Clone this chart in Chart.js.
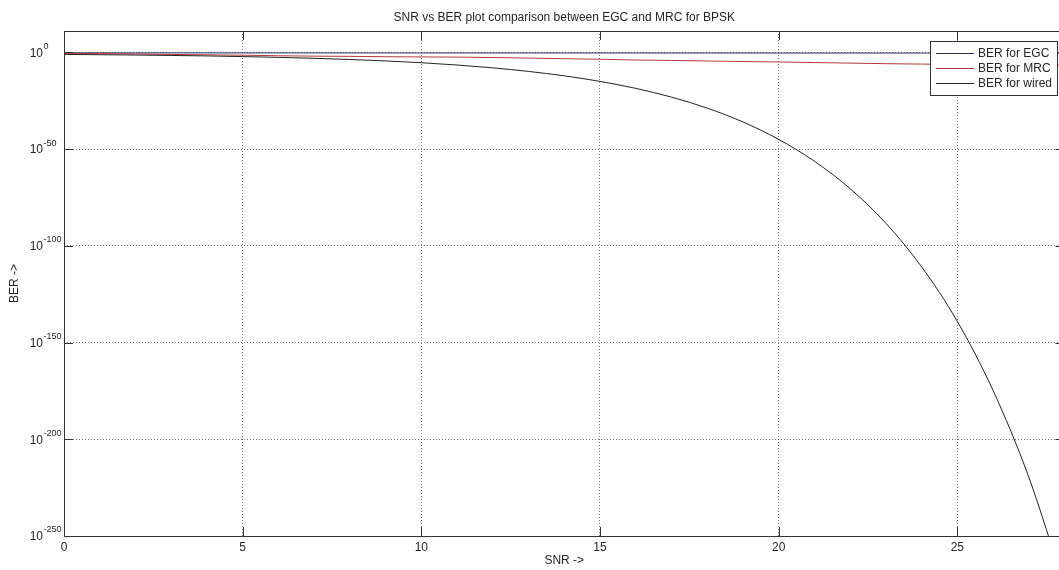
<!DOCTYPE html>
<html>
<head>
<meta charset="utf-8">
<title>SNR vs BER</title>
<script src="https://cdn.jsdelivr.net/npm/chart.js@4.4.1/dist/chart.umd.min.js"></script>
<style>
    html, body { margin: 0; padding: 0; background: #fff; overflow: hidden; }
    #wrap { width: 1128px; height: 570px; }
</style>
</head>
<body>
<div id="wrap"><canvas id="berChart" width="1128" height="570"></canvas></div>
<script>
    'use strict';

    // ===== Data =====
    const snr = [0, 1, 2, 3, 4, 5, 6, 7, 8, 9, 10, 11, 12, 13, 14,
                 15, 16, 17, 18, 19, 20, 21, 22, 23, 24, 25, 26, 27, 28];

    const berEGC = [0.50, 0.50, 0.49, 0.49, 0.48, 0.48, 0.47, 0.47, 0.46, 0.46,
                    0.45, 0.45, 0.44, 0.44, 0.43, 0.43, 0.43, 0.42, 0.42, 0.42,
                    0.41, 0.41, 0.41, 0.41, 0.40, 0.40, 0.40, 0.40, 0.40];

    const berMRC = [3.2e-1, 2.0e-1, 1.3e-1, 7.9e-2, 5.0e-2, 3.2e-2, 1.6e-2, 1.0e-2,
                    7.9e-3, 5.0e-3, 4.0e-3, 3.2e-3, 2.0e-3, 1.0e-3, 5.0e-4, 2.5e-4,
                    1.0e-4, 6.3e-5, 3.2e-5, 1.6e-5, 1.0e-5, 5.0e-6, 2.5e-6, 1.3e-6,
                    7.9e-7, 5.0e-7, 4.0e-7, 2.5e-7, 2.0e-7];

    const berWired = [7.9e-2, 5.6e-2, 3.8e-2, 2.3e-2, 1.3e-2, 6.0e-3, 2.4e-3, 7.7e-4,
                      1.9e-4, 3.4e-5, 3.9e-6, 2.6e-7, 9.0e-9, 1.3e-10, 6.8e-13, 9.2e-16,
                      2.3e-19, 6.9e-24, 1.4e-29, 1.0e-36, 1.0e-45, 5.2e-57, 3.3e-71,
                      4.5e-89, 1.4e-111, 7.9e-140, 1.8e-175, 2.7e-220, 1.0e-276];

    const seriesNames = ['BER for EGC', 'BER for MRC', 'BER for wired'];
    const seriesColors = ['#2a3466', '#b5373a', '#222222'];

    const xTicks = [0, 5, 10, 15, 20, 25];
    const yTickPowers = [0, -50, -100, -150, -200, -250];

    const titleText = 'SNR vs BER plot comparison between EGC and MRC for BPSK';
    const xLabel = 'SNR ->';
    const yLabel = 'BER ->';

    const FONT = '"Liberation Sans", Arial, sans-serif';
    const TEXT = '#262626';

    function toPoints(ys) {
        return snr.map((x, i) => ({ x: x, y: ys[i] }));
    }

    // ===== Axes decoration, labels and legend (MATLAB look) =====
    const matlabAxes = {
        id: 'matlabAxes',
        afterDraw(chart) {
            const ctx = chart.ctx;
            const a = chart.chartArea;
            const xs = chart.scales.x;
            const ys = chart.scales.y;

            function line(x1, y1, x2, y2) {
                ctx.beginPath();
                ctx.moveTo(x1, y1);
                ctx.lineTo(x2, y2);
                ctx.stroke();
            }

            ctx.save();
            ctx.strokeStyle = '#333';
            ctx.lineWidth = 1;

            // inward tick marks
            xTicks.forEach(v => {
                const px = Math.round(xs.getPixelForValue(v)) + 0.5;
                line(px, a.bottom, px, a.bottom - 9);
                line(px, a.top, px, a.top + 9);
            });
            yTickPowers.forEach(p => {
                const py = Math.round(ys.getPixelForValue(Math.pow(10, p))) + 0.5;
                line(a.left, py, a.left + 9, py);
                line(a.right, py, a.right - 9, py);
            });

            // box
            ctx.strokeRect(Math.round(a.left) + 0.5, Math.round(a.top) + 0.5,
                           Math.round(a.right - a.left), Math.round(a.bottom - a.top));

            // x tick labels
            ctx.fillStyle = TEXT;
            ctx.font = '12px ' + FONT;
            ctx.textAlign = 'center';
            ctx.textBaseline = 'middle';
            xTicks.forEach(v => ctx.fillText(String(v), xs.getPixelForValue(v), a.bottom + 12));

            // y tick labels: 10 with superscript exponent
            yTickPowers.forEach(p => {
                const py = ys.getPixelForValue(Math.pow(10, p));
                ctx.font = '12px ' + FONT;
                ctx.textAlign = 'right';
                ctx.fillText('10', a.left - 21, py + 1);
                ctx.font = '9px ' + FONT;
                ctx.textAlign = 'left';
                ctx.fillText(String(p), a.left - 20.5, py - 6);
            });

            // title and axis labels
            ctx.font = '12px ' + FONT;
            ctx.textAlign = 'center';
            const cx = (a.left + a.right) / 2;
            ctx.fillText(titleText, cx, 18);
            ctx.fillText(xLabel, cx, 561);
            ctx.save();
            ctx.translate(15, (a.top + a.bottom) / 2);
            ctx.rotate(-Math.PI / 2);
            ctx.fillText(yLabel, 0, 0);
            ctx.restore();

            // legend box
            const lx = 930, ly = 41, lw = 127, lh = 54;
            ctx.fillStyle = '#fff';
            ctx.fillRect(lx, ly, lw, lh);
            ctx.strokeStyle = '#333';
            ctx.strokeRect(lx + 0.5, ly + 0.5, lw, lh);
            seriesNames.forEach((name, i) => {
                const y = ly + 12 + i * 15;
                ctx.strokeStyle = seriesColors[i];
                line(936, y + 0.5, 974, y + 0.5);
                ctx.fillStyle = TEXT;
                ctx.font = '12px ' + FONT;
                ctx.textAlign = 'left';
                ctx.fillText(name, 978, y + 1);
            });
            ctx.restore();
        }
    };

    // ===== Chart =====
    const ctx = document.getElementById('berChart').getContext('2d');
    new Chart(ctx, {
        type: 'line',
        data: {
            datasets: [{
                label: seriesNames[0],
                data: toPoints(berEGC),
                borderColor: seriesColors[0],
                borderWidth: 1,
                pointRadius: 0,
                order: 3
            }, {
                label: seriesNames[1],
                data: toPoints(berMRC),
                borderColor: seriesColors[1],
                borderWidth: 1,
                pointRadius: 0,
                order: 2
            }, {
                label: seriesNames[2],
                data: toPoints(berWired),
                borderColor: seriesColors[2],
                borderWidth: 1,
                pointRadius: 0,
                cubicInterpolationMode: 'monotone',
                order: 1
            }]
        },
        options: {
            responsive: false,
            animation: false,
            layout: { padding: { top: 31, right: 63.5, left: 0, bottom: 0 } },
            plugins: {
                legend: { display: false },
                title: { display: false },
                tooltip: { enabled: false }
            },
            scales: {
                x: {
                    type: 'linear',
                    min: 0,
                    max: 28,
                    ticks: { stepSize: 5, display: false },
                    grid: { color: '#7a7a7a', lineWidth: 1, drawTicks: false },
                    border: { display: false, dash: [1, 2] },
                    afterFit(scale) { scale.height = 34; }
                },
                y: {
                    type: 'logarithmic',
                    min: 1e-250,
                    max: 1e11,
                    ticks: { display: false, autoSkip: false },
                    grid: { color: '#7a7a7a', lineWidth: 1, drawTicks: false },
                    border: { display: false, dash: [1, 2] },
                    afterBuildTicks(scale) {
                        scale.ticks = yTickPowers.map(p => ({ value: Math.pow(10, p) }));
                    },
                    afterFit(scale) { scale.width = 64; }
                }
            }
        },
        plugins: [matlabAxes]
    });
</script>
</body>
</html>
